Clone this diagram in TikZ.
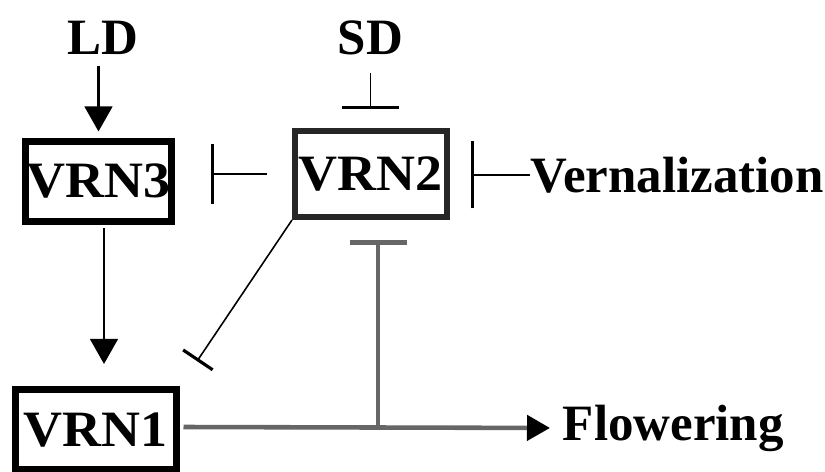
\documentclass[tikz,border=0pt]{standalone}
\usepackage{fontspec}
\setmainfont{Liberation Serif}
\newfontfamily\genefont[FakeStretch=1.06]{Liberation Serif}
\usetikzlibrary{arrows.meta}

\begin{document}
\begin{tikzpicture}[line width=1pt,
  lbl/.style={inner sep=0pt,font=\fontsize{29}{31}\selectfont\bfseries},
  genebox/.style={draw,line width=0.14cm,inner sep=0pt,minimum width=#1,
    minimum height=1.6cm,font=\genefont\fontsize{29}{31}\selectfont\bfseries},
  act/.style={line width=1.7pt,-{Triangle[length=5mm,width=5.5mm]}},
  inh/.style={line width=1.1pt,-{Bar[width=#1,line width=1.8pt]}},
  grayln/.style={black!60,line width=2.6pt}]
  \useasboundingbox (0,0) rectangle (16.5,9.44);
  % genes
  \node[genebox=2.92cm] (vrn3) at (1.97,5.81) {VRN3};
  \node[genebox=3.04cm,draw=black!85,line width=0.12cm,minimum height=1.72cm]
    (vrn2) at (7.42,5.96) {VRN2};
  \node[genebox=3.22cm] (vrn1) at (1.92,0.84) {VRN1};
  % senales
  \node[lbl,anchor=base] (ld) at (2.06,8.34) {LD};
  \node[lbl,anchor=base] (sd) at (7.41,8.34) {SD};
  \node[lbl,anchor=west] (vern) at (10.6,5.94) {Vernalization};
  \node[lbl,anchor=west] (flow) at (11.24,0.88) {Flowering};
  \coordinate (jn) at (7.56,0.90);
  % activacion
  \draw[act,shorten <=0.2cm,shorten >=0.13cm] (vrn3 |- ld.south) -- (vrn3.north);
  \draw[act,shorten <=0.07cm,shorten >=0.45cm]
    ([xshift=0.11cm]vrn3.south) -- ([xshift=0.11cm]vrn3.south |- vrn1.north);
  % represion
  \draw[inh=1.14cm,shorten <=0.34cm,shorten >=0.38cm] (sd.south) -- (sd.south |- vrn2.north);
  \draw[inh=1.2cm,shorten <=0.5cm,shorten >=0.71cm] (vrn2.west) -- (vrn2.west -| vrn3.east);
  \draw[inh=1.34cm,shorten >=0.42cm] (vern.west) -- (vern.west -| vrn2.east);
  \draw[inh=0.71cm,line width=0.9pt,shorten >=0.61cm] (vrn2.south west) -- (vrn1.north east);
  % floracion
  \draw[grayln,-{Triangle[length=4.6mm,width=5mm,color=black]},shorten <=0.07cm,shorten >=0.24cm]
    (vrn1.east |- jn) -- (flow.west);
  \draw[grayln,-{Bar[width=1.14cm]},shorten >=0.4cm] (jn) -- (jn |- vrn2.south);
\end{tikzpicture}
\end{document}
